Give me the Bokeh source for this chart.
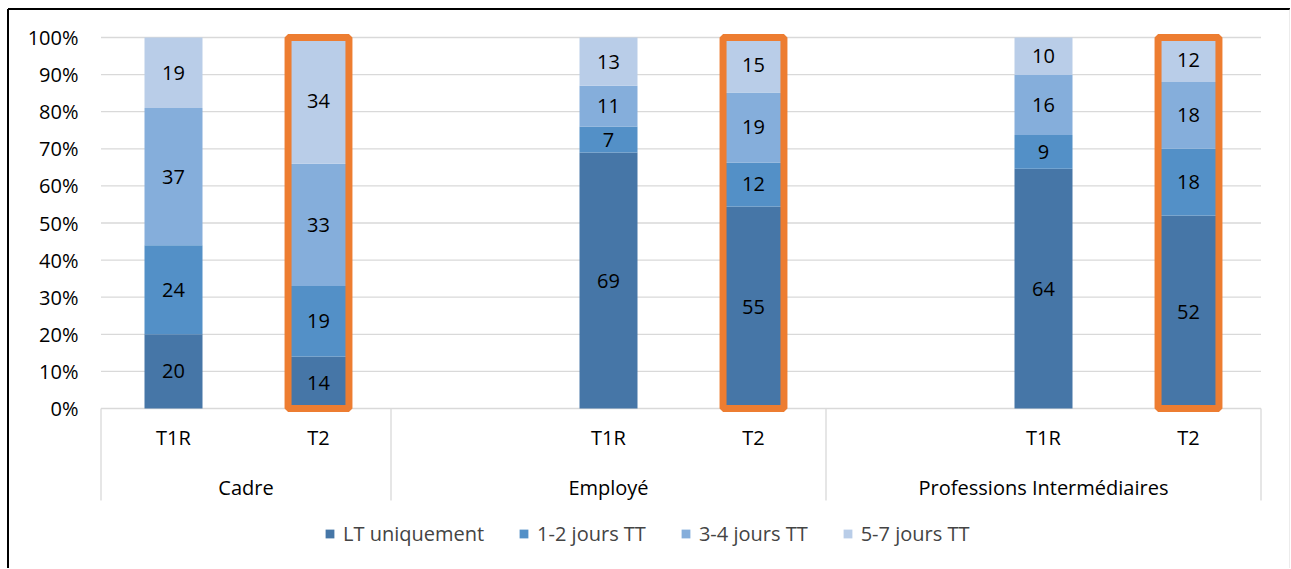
from bokeh.plotting import figure
from bokeh.models import Range1d, Legend, LegendItem, ColumnDataSource
from bokeh.embed import file_html
from bokeh.resources import INLINE
from bokeh.core.properties import value

# ---------------- data ----------------
groups = ["Cadre", "Employé", "Professions Intermédiaires"]
periods = ["T1R", "T2", "T1R", "T2", "T1R", "T2"]
series = ["LT uniquement", "1-2 jours TT", "3-4 jours TT", "5-7 jours TT"]
lt_uniquement = [20, 14, 69, 55, 64, 52]
jours_1_2 = [24, 19, 7, 12, 9, 18]
jours_3_4 = [37, 33, 11, 19, 16, 18]
jours_5_7 = [19, 34, 13, 15, 10, 12]
highlighted = [False, True, False, True, False, True]
y_tick_values = [0, 10, 20, 30, 40, 50, 60, 70, 80, 90, 100]
y_tick_labels = [f"{v}%" for v in y_tick_values]

# ---------------- styling / layout ----------------
COLORS = ["#4676A7", "#5390C7", "#85AEDB", "#B9CDE8"]
ORANGE = "#ED7D31"
GRID = "#D9D9D9"
FONT = "Open Sans"
FS = "20px"
W, H = 1290, 568
# pixel geometry of the plot area
PX_LEFT, SLOT_PX = 100.5, 145.0     # left edge of category area, px per category slot
PX_ZERO, UNIT_PX = 408.0, 371.0     # y pixel of 0 %, px per 100 %

def sx(px):
    return (px - PX_LEFT) / SLOT_PX

def sy(py):
    return (PX_ZERO - py) / UNIT_PX

group_slots = [2, 3, 3]
BAR_W = 0.4

slot_start = [sum(group_slots[:i]) for i in range(len(group_slots))]
bounds = slot_start + [sum(group_slots)]
bar_x = []
for gi in range(len(groups)):
    end = bounds[gi + 1]
    bar_x += [end - 1.5, end - 0.5]
group_center = [(bounds[i] + bounds[i + 1]) / 2 for i in range(len(groups))]

x0, x1 = sx(0), sx(W)
y0, y1 = sy(H), sy(0)

p = figure(width=W, height=H, output_backend="svg", toolbar_location=None,
           x_range=Range1d(x0, x1), y_range=Range1d(y0, y1),
           min_border=0, outline_line_color=None)
p.axis.visible = False
p.grid.visible = False
p.background_fill_color = "white"

# chart border (left & top black, right gray)
bl, bt, br = sx(7.5), sy(8.5), sx(1289.5)
p.segment(x0=[bl, bl], y0=[y0, bt], x1=[bl, br], y1=[bt, bt], line_color="black", line_width=2)
p.segment(x0=[br], y0=[y0], x1=[br], y1=[bt], line_color=GRID, line_width=1)

# gridlines
gy = [v / 100 for v in y_tick_values]
p.segment(x0=[bounds[0]] * len(gy), x1=[bounds[-1]] * len(gy), y0=gy, y1=gy,
          line_color=GRID, line_width=1.3)

# category table separators
TABLE_BOTTOM = sy(500)
p.segment(x0=bounds, x1=bounds, y0=[0] * len(bounds), y1=[TABLE_BOTTOM] * len(bounds),
          line_color=GRID, line_width=1.3)

# stacked bars (100 %)
all_series = [lt_uniquement, jours_1_2, jours_3_4, jours_5_7]
totals = [sum(s[i] for s in all_series) for i in range(len(periods))]
bottom = [0.0] * len(periods)
renderers = []
lab_x, lab_y, lab_t = [], [], []
for si, s in enumerate(all_series):
    frac = [s[i] / totals[i] for i in range(len(periods))]
    top = [bottom[i] + frac[i] for i in range(len(periods))]
    src = ColumnDataSource(dict(x=bar_x, bottom=bottom, top=top))
    r = p.vbar(x="x", bottom="bottom", top="top", width=BAR_W, source=src,
               fill_color=COLORS[si], line_color=None)
    renderers.append(r)
    for i in range(len(periods)):
        lab_x.append(bar_x[i])
        lab_y.append((bottom[i] + top[i]) / 2)
        lab_t.append(str(s[i]))
    bottom = top

# orange highlight frames
hx = [bar_x[i] for i in range(len(periods)) if highlighted[i]]
p.rect(x=hx, y=[0.5] * len(hx), width=0.42, height=1.0, fill_color=None,
       line_color=ORANGE, line_width=7)

txt = dict(text_baseline="middle", text_font=value(FONT), text_font_size=FS, text_color="black")
# data labels
p.text(x=lab_x, y=lab_y, text=lab_t, text_align="center", **txt)
# y tick labels
p.text(x=[sx(78)] * len(gy), y=gy, text=y_tick_labels, text_align="right", **txt)
# x tick labels & group labels
p.text(x=bar_x, y=[sy(437)] * len(bar_x), text=periods, text_align="center", **txt)
p.text(x=group_center, y=[sy(487)] * len(groups), text=groups, text_align="center", **txt)

# legend
legend = Legend(items=[LegendItem(label=series[i], renderers=[renderers[i]]) for i in range(4)],
                orientation="horizontal", location=(324, 21),
                glyph_width=11, glyph_height=11, label_standoff=8, spacing=34,
                padding=0, margin=0, border_line_color=None, background_fill_alpha=0,
                label_text_font=FONT, label_text_font_size=FS, label_height=20)
p.add_layout(legend, "center")

open("out.html", "w").write(file_html(p, INLINE))
